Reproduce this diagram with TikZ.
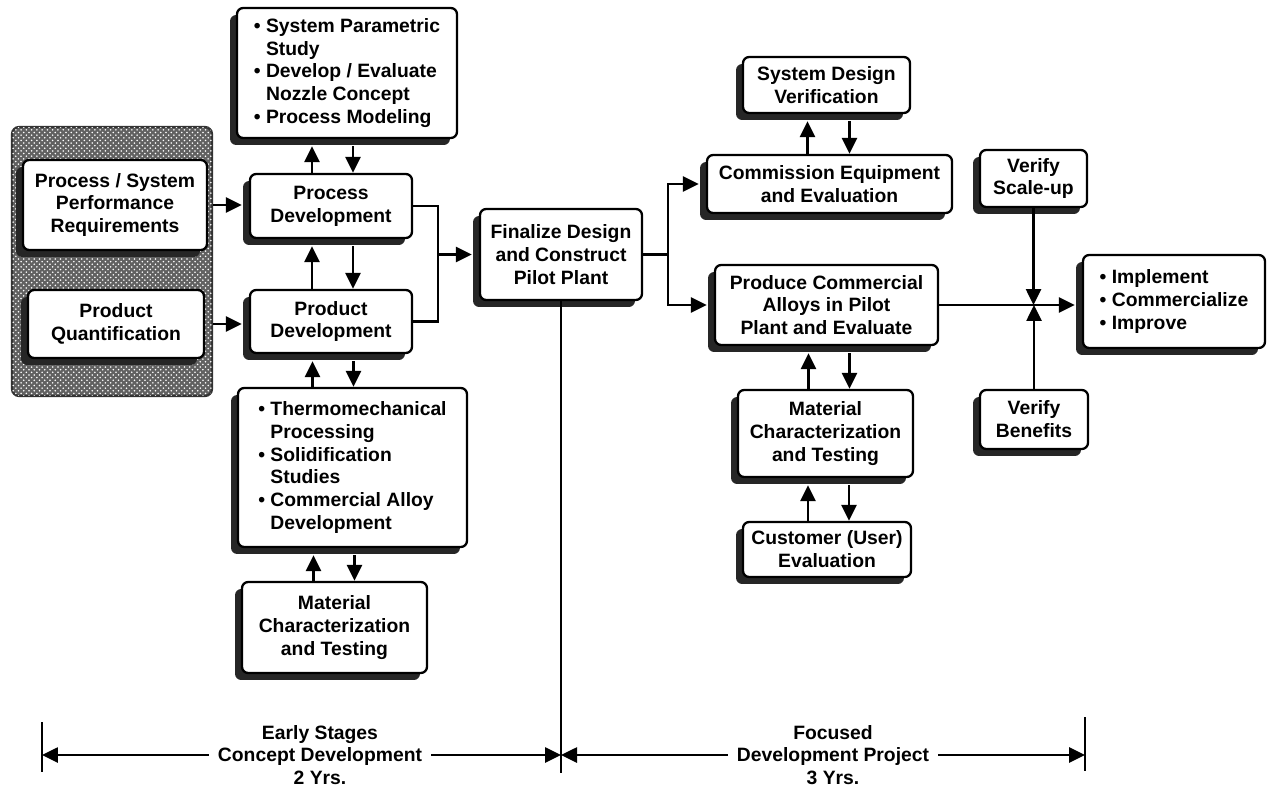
\documentclass[tikz,border=0pt]{standalone}
\usepackage{fontspec}
\setmainfont{Liberation Sans}
\usetikzlibrary{arrows.meta,calc,shadows,patterns}

\newcommand{\boxfont}{\fontsize{11}{13}\selectfont\bfseries}
\newcommand{\bl}{\textbullet\ }
\newcommand{\ind}{\phantom{\textbullet\ }}
% two arrows between a lower and an upper box (#3 = up arrow, #4 = down arrow)
\newcommand{\twoway}[4]{%
  \draw[arr] ($(#1.north)+(#3,0)$) -- ($(#1.north |- #2.south)+(#3,7)$);
  \draw[arr] ($(#1.north |- #2.south)+(#4,7)$) -- ($(#1.north)+(#4,0)$);}

\tikzset{
  box/.style={draw=black, line width=1.3pt, rounded corners=3.5pt, fill=white,
    align=center, inner sep=2pt, font=\boxfont,
    drop shadow={shadow xshift=-0.14cm, shadow yshift=-0.14cm, fill=black!85, opacity=1}},
  inputs/.style={draw=black!80, line width=1.3pt, rounded corners=4pt, fill=black!62,
    postaction={pattern=crosshatch dots, pattern color=white!80}},
  wire/.style={line width=1.5pt},
  arr/.style={line width=1.5pt, -{Triangle[length=3.2mm,width=3mm]}},
  span/.style={align=center, inner sep=5pt, font=\fontsize{11}{13}\selectfont\bfseries},
}

\begin{document}
\begin{tikzpicture}[x=0.02cm,y=-0.02cm]
\useasboundingbox (0,0) rectangle (1268,794);

% hatched area with the two inputs
\node[inputs, minimum width=4cm, minimum height=5.38cm] (inputs) at (112,261.5) {};
\node[box, minimum width=3.68cm, minimum height=1.8cm] (reqbox) at (115,205)
  {Process / System\\Performance\\Requirements};
\node[box, minimum width=3.52cm, minimum height=1.36cm] (quantbox) at (116,324)
  {Product\\Quantification};

% early stages
\node[box, minimum width=4.4cm, minimum height=2.6cm, align=left] (paramlist) at (347,73)
  {\bl System Parametric\\\ind Study\\\bl Develop / Evaluate\\\ind Nozzle Concept\\\bl Process Modeling};
\node[box, minimum width=3.24cm, minimum height=1.28cm] (procdev) at (331,206)
  {Process\\Development};
\node[box, minimum width=3.24cm, minimum height=1.26cm] (proddev) at (331,321.5)
  {Product\\Development};
\node[box, minimum width=4.58cm, minimum height=3.18cm, align=left] (thermolist) at (352.5,467.5)
  {\bl Thermomechanical\\\ind Processing\\\bl Solidification\\\ind Studies\\\bl Commercial Alloy\\\ind Development};
\node[box, minimum width=3.7cm, minimum height=1.82cm] (matleft) at (334.5,627.5)
  {Material\\Characterization\\and Testing};

% pilot plant
\node[box, minimum width=3.24cm, minimum height=1.82cm] (finalize) at (561,254.5)
  {Finalize Design\\and Construct\\Pilot Plant};

% focused development
\node[box, minimum width=3.34cm, minimum height=1.12cm] (sdv) at (826.5,85)
  {System Design\\Verification};
\node[box, minimum width=4.9cm, minimum height=1.16cm] (commission) at (829.5,184)
  {Commission Equipment\\and Evaluation};
\node[box, minimum width=4.46cm, minimum height=1.6cm] (produce) at (826.5,305)
  {Produce Commercial\\Alloys in Pilot\\Plant and Evaluate};
\node[box, minimum width=3.5cm, minimum height=1.74cm] (matright) at (825.5,433.5)
  {Material\\Characterization\\and Testing};
\node[box, minimum width=3.36cm, minimum height=1.1cm] (customer) at (827,549.5)
  {Customer (User)\\Evaluation};
\node[box, minimum width=2.14cm, minimum height=1.14cm] (scaleup) at (1033.5,178.5)
  {Verify\\Scale-up};
\node[box, minimum width=2.16cm, minimum height=1.18cm] (benefits) at (1034,419.5)
  {Verify\\Benefits};
\node[box, minimum width=3.64cm, minimum height=1.86cm, align=left] (implement) at (1174,301.5)
  {\bl Implement\\\bl Commercialize\\\bl Improve};

% inputs into development
\draw[arr] (inputs.east |- reqbox.east) -- ($(reqbox.east -| procdev.west)+(-7,0)$);
\draw[arr] (inputs.east |- quantbox.east) -- ($(quantbox.east -| proddev.west)+(-7,0)$);

% up / down pairs
\twoway{procdev}{paramlist}{-19}{22}
\twoway{proddev}{procdev}{-19}{22}
\twoway{thermolist}{proddev}{-40}{1}
\twoway{matleft}{thermolist}{-21}{20}
\twoway{commission}{sdv}{-22}{20}
\twoway{matright}{produce}{-17}{24}
\twoway{customer}{matright}{-19}{22}

% into pilot plant
\coordinate (join) at ($(procdev.east)+(25,0)$);
\draw[wire] (procdev.east) -- (join) |- (proddev.east);
\draw[arr] (join |- finalize.west) -- ($(finalize.west)+(-7,0)$);

% out of pilot plant
\coordinate (split) at ($(finalize.east)+(25,0)$);
\draw[wire] (finalize.east) -- (split);
\draw[arr] (split) |- ($(commission.west)+(-7,0)$);
\draw[arr] (split) |- ($(produce.west)+(-7,0)$);

% towards implementation
\draw[arr] (produce.east) -- ($(produce.east -| implement.west)+(-7,0)$);
\draw[arr] (scaleup.south) -- (scaleup.south |- produce.east);
\draw[arr] (benefits.north) -- (benefits.north |- produce.east);

% time line
\coordinate (divend) at (561,773);
\coordinate (ltick) at (42,747);
\coordinate (rtick) at (1085,747);
\draw[wire] (finalize.south) -- (divend);
\draw[wire] (42,722) -- (42,772);
\draw[wire] (1085,717) -- (1085,771);
\node[span] (early) at (320,755) {Early Stages\\Concept Development\\2 Yrs.};
\node[span] (focused) at (833,755) {Focused\\Development Project\\3 Yrs.};
\draw[arr] (early.west) -- (early.west -| ltick);
\draw[arr] (early.east) -- (early.east -| divend);
\draw[arr] (focused.west) -- (focused.west -| divend);
\draw[arr] (focused.east) -- (focused.east -| rtick);
\end{tikzpicture}
\end{document}
